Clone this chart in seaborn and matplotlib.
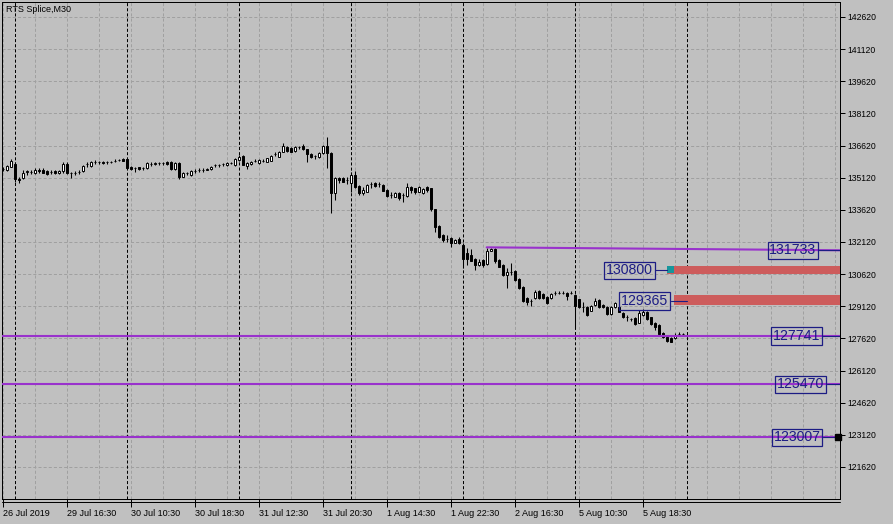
import numpy as np
import pandas as pd
import matplotlib
matplotlib.use('Agg')
import matplotlib.pyplot as plt
from matplotlib.lines import Line2D
import seaborn as sns

# M30 bars, 26 Jul 22:30 .. 5 Aug 23:30 (RTS Splice)
open_ = [135520, 135480, 135640, 135780, 135080, 135110, 135400, 135400, 135340, 135500,
         135500, 135430, 135400, 135430, 135340, 135410, 135780, 135340, 135350, 135400,
         135410, 135750, 135670, 135850, 135850, 135870, 135830, 135870, 135910, 135950,
         135980, 135970, 135630, 135560, 135600, 135560, 135560, 135760, 135760, 135790,
         135790, 135840, 135840, 135510, 135790, 135170, 135330, 135250, 135450, 135480,
         135480, 135500, 135530, 135710, 135710, 135750, 135700, 135790, 135700, 135950,
         136130, 135670, 135760, 135910, 135820, 135910, 135870, 135910, 136230, 136100,
         136330, 136570, 136490, 136380, 136540, 136600, 136450, 136230, 136130, 136100,
         136260, 136600, 136290, 134420, 135090, 135090, 135010, 134890, 135250, 134730,
         134390, 134470, 134830, 134890, 134830, 134780, 134550, 134310, 134230, 134420,
         134310, 134270, 134670, 134620, 134470, 134390, 134670, 134620, 133640, 132870,
         132450, 132260, 132320, 132090, 132250, 131980, 131590, 131510, 131310, 131050,
         131280, 131090, 131710, 131780, 131280, 131050, 130580, 130730, 130780, 130380,
         130030, 129490, 129380, 129490, 129850, 129690, 129540, 129490, 129750, 129750,
         129750, 129750, 129750, 129650, 129440, 129070, 129070, 128910, 129180, 129410,
         129180, 129100, 128760, 129070, 129100, 128820, 128610, 128520, 128560, 128350,
         128710, 128870, 128610, 128350, 128250, 127860, 127670, 127640, 127620, 127830,
         127830]
high = [135620, 135710, 135990, 135850, 135150, 135460, 135500, 135500, 135550, 135550,
        135550, 135480, 135480, 135480, 135480, 135830, 135830, 135390, 135430, 135480,
        135710, 135850, 135920, 135950, 135920, 135900, 135900, 135920, 135970, 135990,
        136020, 135990, 135670, 135630, 135640, 135630, 135850, 135830, 135830, 135850,
        135850, 135880, 135900, 135830, 135830, 135390, 135390, 135480, 135530, 135550,
        135550, 135570, 135670, 135780, 135780, 135810, 135830, 135850, 136040, 136180,
        136180, 135830, 135900, 135970, 135990, 135970, 136060, 136180, 136300, 136370,
        136720, 136620, 136530, 136580, 136600, 136690, 136460, 136270, 136200, 136320,
        136650, 137000, 136340, 135130, 135170, 135130, 135170, 135400, 135450, 134780,
        134700, 134830, 134930, 134940, 134930, 134830, 134590, 134470, 134450, 134450,
        134410, 134860, 134710, 134660, 134710, 134620, 134710, 134660, 133680, 132910,
        132490, 132450, 132350, 132260, 132370, 132050, 131820, 131780, 131350, 131310,
        131330, 131820, 131840, 131820, 131330, 131090, 130890, 131150, 130810, 130420,
        130070, 129530, 129460, 129860, 129880, 129760, 129580, 129740, 129850, 129810,
        129810, 129790, 129850, 129690, 129480, 129330, 129110, 129180, 129490, 129460,
        129230, 129130, 129110, 129340, 129130, 128850, 128710, 128570, 128600, 128950,
        128980, 128900, 128640, 128390, 128290, 127900, 127710, 127690, 127890, 127930,
        127870]
low = [135430, 135430, 135620, 134920, 134870, 135040, 135250, 135290, 135290, 135360,
       135320, 135250, 135290, 135290, 135290, 135360, 135290, 135110, 135250, 135290,
       135390, 135620, 135640, 135760, 135780, 135760, 135780, 135810, 135850, 135880,
       135880, 135550, 135480, 135400, 135480, 135480, 135530, 135670, 135710, 135710,
       135710, 135710, 135480, 135480, 135050, 135130, 135250, 135200, 135360, 135390,
       135390, 135460, 135480, 135620, 135620, 135670, 135670, 135740, 135670, 135900,
       135690, 135510, 135710, 135830, 135780, 135850, 135830, 135880, 136130, 136090,
       136320, 136340, 136300, 136340, 136460, 136410, 135870, 136060, 135980, 136060,
       136230, 135560, 133490, 134080, 134860, 134900, 134830, 134470, 134660, 134310,
       134310, 134430, 134620, 134690, 134700, 134480, 134210, 134160, 134200, 134080,
       134000, 134220, 134420, 134360, 134430, 134360, 134470, 133580, 132600, 132290,
       132130, 132130, 131870, 132050, 132030, 130890, 131050, 131210, 130810, 131000,
       130940, 131050, 131680, 131130, 130930, 130530, 129960, 130580, 130300, 129930,
       129340, 129180, 129130, 129460, 129460, 129460, 129220, 129460, 129650, 129690,
       129690, 129410, 129690, 128090, 129040, 128870, 128670, 128880, 129130, 129060,
       129040, 128710, 128710, 129040, 128830, 128570, 128450, 128430, 128250, 128320,
       128670, 128480, 128250, 128010, 127730, 127640, 127470, 127450, 127590, 127730,
       127780]
close = [135540, 135670, 135920, 135060, 134990, 135360, 135410, 135400, 135480, 135410,
         135360, 135290, 135400, 135340, 135430, 135780, 135340, 135340, 135350, 135400,
         135670, 135750, 135870, 135850, 135850, 135790, 135870, 135870, 135910, 135950,
         135900, 135570, 135510, 135560, 135510, 135560, 135790, 135760, 135790, 135790,
         135790, 135760, 135510, 135790, 135170, 135330, 135330, 135450, 135450, 135480,
         135480, 135530, 135630, 135710, 135710, 135750, 135790, 135790, 135980, 136100,
         135710, 135790, 135870, 135910, 135950, 135910, 136030, 136130, 136230, 136330,
         136600, 136380, 136330, 136540, 136540, 136450, 136230, 136100, 136130, 136290,
         136600, 136260, 134420, 135090, 135010, 134930, 135010, 135250, 134700, 134390,
         134550, 134780, 134830, 134730, 134830, 134510, 134270, 134310, 134420, 134160,
         134310, 134670, 134550, 134470, 134670, 134580, 134550, 133640, 132830, 132370,
         132210, 132260, 132060, 132210, 132060, 131310, 131310, 131250, 131050, 131200,
         131050, 131710, 131780, 131250, 130970, 130580, 130730, 130730, 130350, 129960,
         129380, 129330, 129380, 129800, 129490, 129490, 129260, 129690, 129750, 129750,
         129750, 129600, 129750, 129130, 129070, 129070, 128710, 129130, 129380, 129100,
         129070, 128760, 129070, 129260, 128870, 128610, 128610, 128520, 128290, 128790,
         128870, 128510, 128290, 128140, 127830, 127670, 127510, 127470, 127780, 127830,
         127830]

tick_bars = [0, 16, 32, 48, 64, 80, 96, 112, 128, 144, 160]
tick_labels = ['26 Jul 2019', '29 Jul 16:30', '30 Jul 10:30', '30 Jul 18:30', '31 Jul 12:30',
               '31 Jul 20:30', '1 Aug 14:30', '1 Aug 22:30', '2 Aug 16:30', '5 Aug 10:30',
               '5 Aug 18:30']
day_starts = [3, 31, 59, 87, 115, 143, 171]
price_ticks = [121620, 123120, 124620, 126120, 127620, 129120, 130620, 132120,
               133620, 135120, 136620, 138120, 139620, 141120, 142620]

level_prices = [127741, 125470, 123007]
level_label_bars = [198.4, 199.5, 198.6]
trend_bars = [121, 209.3]
trend_prices = [131870, 131733]
order_prices = [130800, 129365]
order_label_bars = [156.7, 160.5]
order_line_ends = [166.1, 171.0]
zone_low = [130630, 129180]
zone_high = [131000, 129650]
zone_start = [166.1, 167.75]

df = pd.DataFrame({'bar': np.arange(len(close)), 'open': open_, 'high': high,
                   'low': low, 'close': close})
df['up'] = df['close'] >= df['open']

sns.set_theme(style='white')
plt.rcParams['font.family'] = ['Liberation Sans', 'DejaVu Sans']
plt.rcParams['lines.scale_dashes'] = False

BG = '#c0c0c0'
PURPLE = '#9932cc'
NAVY = '#1c1c84'
GRID = '#a0a0a0'

fig = plt.figure(figsize=(8.93, 5.24), dpi=100, facecolor=BG)
ax = fig.add_axes([2.3 / 893, 1 - 499.3 / 524, (840 - 2.3) / 893, (499.3 - 2.3) / 524])
ax.set_facecolor(BG)
ax.set_xlim(-0.1, 209.33)
ax.set_ylim(120111, 143306)

# grid
ax.vlines(np.arange(0, 209, 8), 120111, 143306, colors=GRID, linewidth=0.72,
          linestyles=[(0, (2.2, 1.5))], zorder=1)
ax.hlines(price_ticks, -0.1, 209.33, colors=GRID, linewidth=0.72,
          linestyles=[(0, (2.2, 1.5))], zorder=1)
# day separators
ax.vlines(day_starts, 120111, 143306, colors='black', linewidth=0.72,
          linestyles=[(0, (2.2, 1.5))], zorder=2)

# order zones
for lo, hi, x0 in zip(zone_low, zone_high, zone_start):
    ax.fill_between([x0, 209.33], lo, hi, color='#cd5c5c', linewidth=0, zorder=2)
ax.fill_between([166.1, 167.75], 130660, 130980, color='#17969c', linewidth=0, zorder=3)

# candles
ax.vlines(df['bar'], df['low'], df['high'], colors='black', linewidth=0.75, zorder=4)
body_lo = df[['open', 'close']].min(axis=1)
body_h = (df['close'] - df['open']).abs()
ax.bar(df['bar'], body_h, bottom=body_lo, width=0.55,
       color=np.where(df['up'], 'white', 'black'), edgecolor='black',
       linewidth=0.7, zorder=5)

# horizontal levels
for p in level_prices:
    ax.axhline(p, color=PURPLE, linewidth=1.5, zorder=6)
ax.plot(trend_bars, trend_prices, color=PURPLE, linewidth=1.5, zorder=6)

box = dict(boxstyle='square,pad=0.12', fc='none', ec=NAVY, lw=0.9)
txt_kw = dict(ha='center', va='center', fontsize=10.2, color=NAVY, zorder=8, bbox=box)

ax.text(197.55, trend_prices[1], str(trend_prices[1]), **txt_kw)
ax.plot([204, 209.33], [trend_prices[1]] * 2, color=NAVY, lw=0.8, zorder=7)
for p, xb in zip(level_prices, level_label_bars):
    ax.text(xb, p, str(p), **txt_kw)
    ax.plot([xb + 6.5, 209.33], [p, p], color=NAVY, lw=0.8, zorder=7)
for p, xb, xe in zip(order_prices, order_label_bars, order_line_ends):
    ax.text(xb, p, str(p), **txt_kw)
    ax.plot([xb + 6.5, xe], [p, p], color=NAVY, lw=0.8, zorder=7)
ax.plot([208.8], [123007], marker='s', markersize=3.8, color='black',
        clip_on=False, zorder=9)

ax.text(0.0044, 0.9855, 'RTS Splice,M30', transform=ax.transAxes, fontsize=6.5,
        color='black', ha='left', va='center')

# axes & ticks
ax.set_xticks(tick_bars)
ax.set_xticklabels(tick_labels, ha='left')
ax.tick_params(axis='x', bottom=True, direction='out', length=5.5, width=0.72,
               pad=1.2, labelsize=6.5, colors='black')
ax.yaxis.tick_right()
ax.set_yticks(price_ticks)
ax.set_yticklabels([str(v) for v in price_ticks])
ax.tick_params(axis='y', right=True, left=False, direction='out', length=3.5,
               width=0.72, pad=1.5, labelsize=6.2, colors='black')
for s in ax.spines.values():
    s.set_color('black')
    s.set_linewidth(0.72)
ax.grid(False)

fig.add_artist(Line2D([2.3 / 893, 840 / 893], [1 - 502 / 524] * 2, color='black', lw=0.72))

fig.savefig('out.png', dpi=100, facecolor=BG)
